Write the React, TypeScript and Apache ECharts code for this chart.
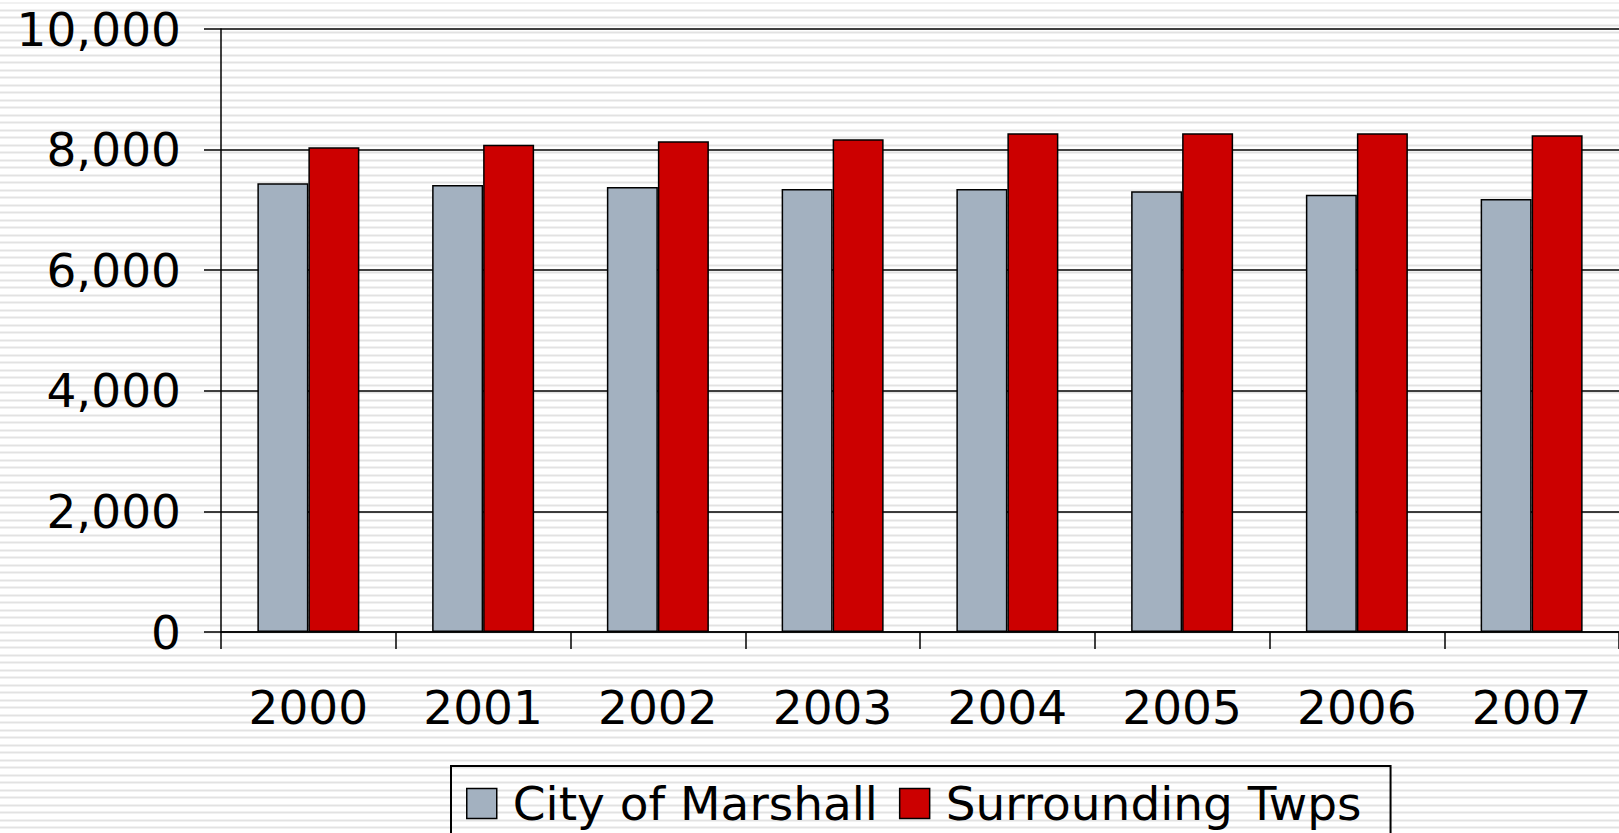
import React, { useEffect, useRef } from "react";
import * as echarts from "echarts";

const categories = ["2000", "2001", "2002", "2003", "2004", "2005", "2006", "2007"];
const cityValues = [7440, 7415, 7380, 7345, 7345, 7310, 7250, 7180];
const twpValues = [8040, 8080, 8140, 8170, 8270, 8270, 8270, 8240];
const seriesNames = ["City of Marshall", "Surrounding Twps"];

const FONT = "DejaVu Sans";
const FS = 47;

export default function App() {
  const ref = useRef<HTMLDivElement>(null);
  useEffect(() => {
    document.body.style.margin = "0";
    if (!ref.current) return;
    const chart = echarts.init(ref.current, undefined, { renderer: "svg" });
    chart.setOption({
      animation: false,
      backgroundColor: "transparent",
      textStyle: { fontFamily: FONT },
      grid: { left: 221, top: 29, bottom: 201, right: -5, containLabel: false },
      legend: {
        left: 451,
        top: 766,
        orient: "horizontal",
        padding: [14, 29, 22, 15],
        itemWidth: 30,
        itemHeight: 30,
        itemGap: 21,
        borderColor: "#000",
        borderWidth: 2,
        icon: "rect",
        itemStyle: { borderColor: "#000", borderWidth: 1.5 },
        textStyle: { fontSize: FS, color: "#000", fontFamily: FONT, padding: [0, 0, 0, 11] },
        data: seriesNames,
      },
      xAxis: {
        type: "category",
        data: categories,
        axisLine: { show: true, lineStyle: { color: "#000", width: 1.5 } },
        axisTick: { show: true, length: 17, lineStyle: { color: "#000", width: 1.5 } },
        axisLabel: { fontSize: FS, color: "#000", fontFamily: FONT, margin: 52, lineHeight: 46 },
        splitLine: { show: false },
      },
      yAxis: {
        type: "value",
        min: 0,
        max: 10000,
        interval: 2000,
        axisLine: { show: true, lineStyle: { color: "#000", width: 1.5 } },
        axisTick: { show: true, length: 17, lineStyle: { color: "#000", width: 1.5 } },
        axisLabel: {
          fontSize: FS,
          color: "#000",
          fontFamily: FONT,
          margin: 40,
          formatter: (v: number) => v.toLocaleString("en-US"),
        },
        splitLine: { show: true, lineStyle: { color: "#000", width: 1.5 } },
      },
      series: [
        {
          name: seriesNames[0],
          type: "bar",
          data: cityValues,
          barWidth: 51,
          barGap: "0%",
          itemStyle: { color: "#a3b1c0", borderColor: "#000", borderWidth: 1.5 },
        },
        {
          name: seriesNames[1],
          type: "bar",
          data: twpValues,
          barWidth: 51,
          barGap: "0%",
          itemStyle: { color: "#cc0000", borderColor: "#000", borderWidth: 1.5 },
        },
      ],
    });
    return () => chart.dispose();
  }, []);
  return (
    <div
      ref={ref}
      style={{
        position: "fixed",
        left: 0,
        top: 0,
        width: 1619,
        height: 833,
        backgroundColor: "#fff",
        backgroundImage:
          "repeating-linear-gradient(to bottom, #ffffff 0px, #ffffff 5.5px, #e2e2e2 5.5px, #e2e2e2 7.5px)",
        backgroundPosition: "0 -3.5px",
      }}
    />
  );
}
